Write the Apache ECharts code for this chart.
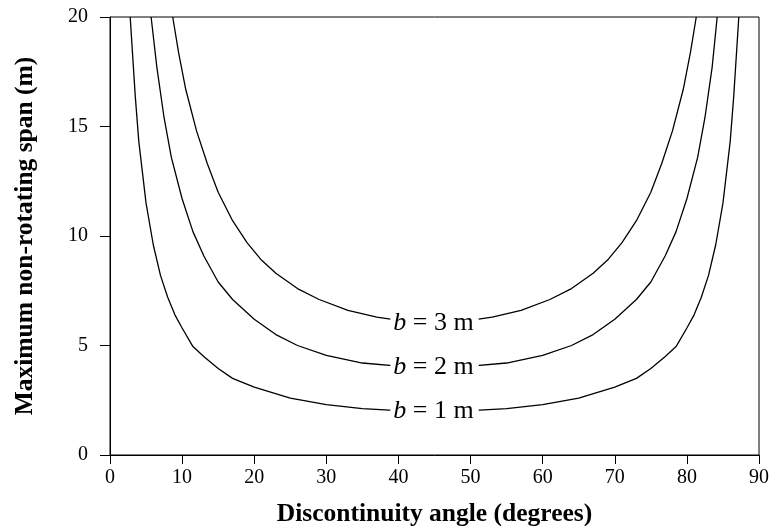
<!DOCTYPE html>
<html>
<head>
<meta charset="utf-8">
<script src="https://cdn.jsdelivr.net/npm/echarts@6/dist/echarts.min.js"></script>
<style>html,body{margin:0;padding:0;background:#fff}#c{width:770px;height:526px}</style>
</head>
<body>
<div id="c"></div>
<script>
// Discontinuity angle (degrees) and maximum non-rotating span (m)
var anglesB1 = [2.8, 3.5, 4, 5, 6, 7, 8, 9, 10, 11.5, 13, 15, 17, 20, 25, 30, 35, 40, 45, 50, 55, 60, 65, 70, 73, 75, 77, 78.5, 80, 81, 82, 83, 84, 85, 86, 86.5, 87.2];
var spanB1   = [20, 16.4, 14.3, 11.5, 9.6, 8.2, 7.2, 6.4, 5.8, 4.95, 4.5, 3.95, 3.5, 3.1, 2.6, 2.3, 2.12, 2.03, 2.0, 2.03, 2.12, 2.3, 2.6, 3.1, 3.5, 3.95, 4.5, 4.95, 5.8, 6.4, 7.2, 8.2, 9.6, 11.5, 14.3, 16.4, 20];

var anglesB2 = [5.7, 6.5, 7.5, 8.5, 10, 11.5, 13, 15, 17, 20, 23, 26, 30, 35, 40, 45, 50, 55, 60, 64, 67, 70, 73, 75, 77, 78.5, 80, 81.5, 82.5, 83.5, 84.2];
var spanB2   = [20, 17.7, 15.4, 13.6, 11.7, 10.2, 9.1, 7.9, 7.1, 6.2, 5.5, 5.0, 4.55, 4.2, 4.06, 4.0, 4.06, 4.2, 4.55, 5.0, 5.5, 6.2, 7.1, 7.9, 9.1, 10.2, 11.7, 13.6, 15.4, 17.7, 20];

var anglesB3 = [8.7, 9.5, 10.5, 12, 13.5, 15, 17, 19, 21, 23, 26, 29, 33, 37, 41, 45, 49, 53, 57, 61, 64, 67, 69, 71, 73, 75, 76.5, 78, 79.5, 80.5, 81.3];
var spanB3   = [20, 18.4, 16.7, 14.8, 13.3, 12.0, 10.7, 9.7, 8.9, 8.3, 7.6, 7.1, 6.6, 6.3, 6.1, 6.0, 6.1, 6.3, 6.6, 7.1, 7.6, 8.3, 8.9, 9.7, 10.7, 12.0, 13.3, 14.8, 16.7, 18.4, 20];

var curveLabels = ['1', '2', '3'];
var labelAngle = 45;
var xTicks = [0, 10, 20, 30, 40, 50, 60, 70, 80, 90];
var yTicks = [0, 5, 10, 15, 20];

var FONT = "'Liberation Serif', 'Times New Roman', serif";

function buildData(angles, spans, bText) {
  return angles.map(function (a, i) {
    if (a === labelAngle) {
      return {
        value: [a, spans[i]],
        label: {
          show: true,
          position: 'inside',
          formatter: '{i|b} = ' + bText + ' m',
          color: '#000',
          fontFamily: FONT,
          fontSize: 26,
          backgroundColor: '#fff',
          padding: [0, 5, 0, 3],
          rich: { i: { fontStyle: 'italic', fontFamily: FONT, fontSize: 26, color: '#000' } }
        }
      };
    }
    return [a, spans[i]];
  });
}

var sets = [[anglesB1, spanB1], [anglesB2, spanB2], [anglesB3, spanB3]];
var series = sets.map(function (s, k) {
  return {
    type: 'line',
    data: buildData(s[0], s[1], curveLabels[k]),
    smooth: false,
    showSymbol: true,
    symbol: 'circle',
    symbolSize: 0,
    lineStyle: { color: '#000', width: 1.3 },
    itemStyle: { color: '#000' },
    label: { show: false },
    emphasis: { disabled: true },
    silent: true
  };
});

var chart = echarts.init(document.getElementById('c'), null, { renderer: 'canvas' });
chart.setOption({
  animation: false,
  backgroundColor: '#fff',
  grid: { left: 110, right: 11, top: 17, bottom: 71, containLabel: false, outerBoundsMode: 'none', show: true, borderColor: '#000', borderWidth: 1, backgroundColor: 'transparent' },
  xAxis: {
    type: 'value', min: xTicks[0], max: xTicks[xTicks.length - 1], interval: 10,
    name: 'Discontinuity angle (degrees)', nameLocation: 'middle', nameGap: 46,
    nameTextStyle: { fontFamily: FONT, fontSize: 25.5, fontWeight: 'bold', color: '#000' },
    axisLine: { show: true, lineStyle: { color: '#000', width: 1 } },
    axisTick: { show: true, length: 9, lineStyle: { color: '#000' } },
    axisLabel: { fontFamily: FONT, fontSize: 20, color: '#000', margin: 13 },
    splitLine: { show: false }
  },
  yAxis: {
    type: 'value', min: yTicks[0], max: yTicks[yTicks.length - 1], interval: 5,
    name: 'Maximum non-rotating span (m)', nameLocation: 'middle', nameGap: 72,
    nameTextStyle: { fontFamily: FONT, fontSize: 25.5, fontWeight: 'bold', color: '#000' },
    axisLine: { show: true, lineStyle: { color: '#000', width: 1 } },
    axisTick: { show: true, length: 10, lineStyle: { color: '#000' } },
    axisLabel: { fontFamily: FONT, fontSize: 20, color: '#000', margin: 22 },
    splitLine: { show: false }
  },
  series: series
});
</script>
</body>
</html>
